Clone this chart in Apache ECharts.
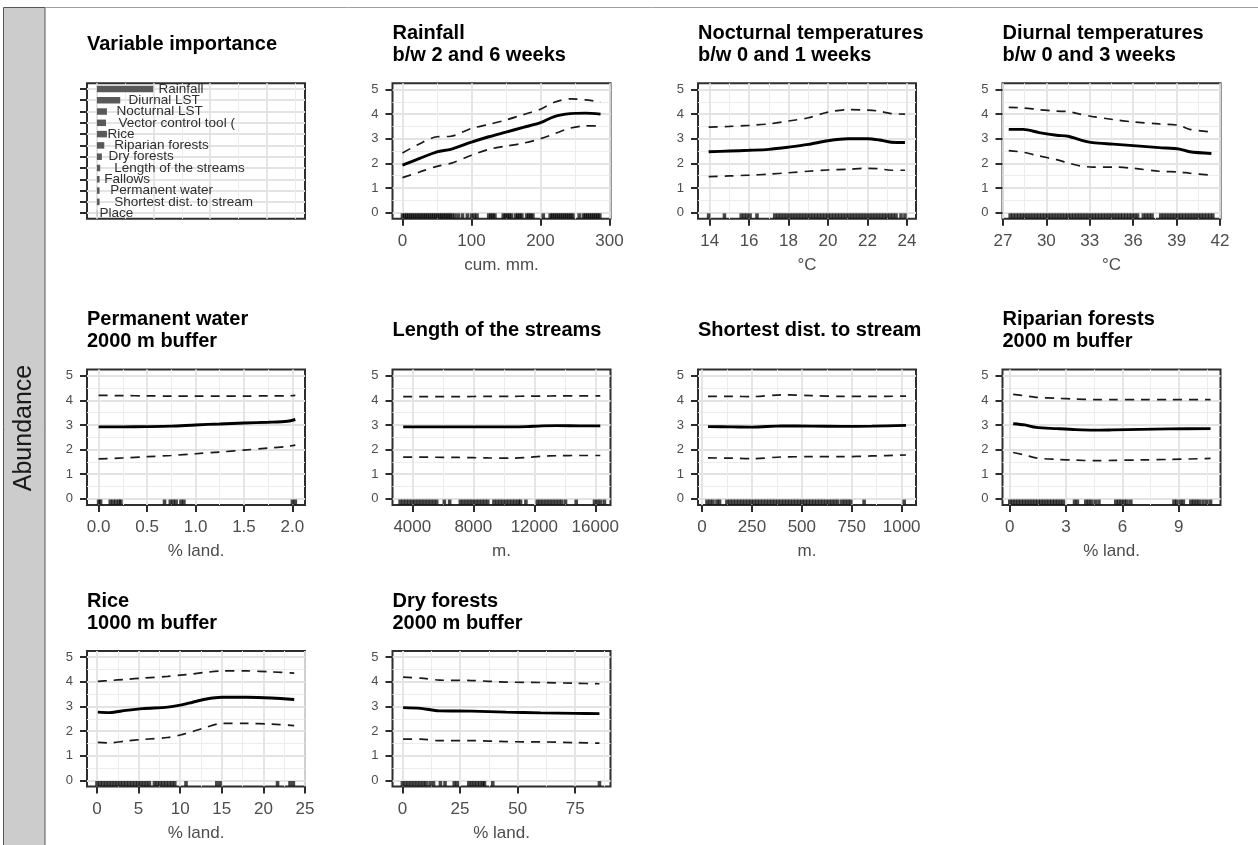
<!DOCTYPE html>
<html>
<head>
<meta charset="utf-8">
<script src="https://cdn.jsdelivr.net/npm/echarts@6/dist/echarts.min.js"></script>
<style>
html,body{margin:0;padding:0;background:#fff;}
#chart{width:1258px;height:845px;}
</style>
</head>
<body>
<div id="chart"></div>
<script>
// ---------------- DATA ----------------
const importanceVars = ['Rainfall','Diurnal LST','Nocturnal LST','Vector control tool (','Rice','Riparian forests','Dry forests','Length of the streams','Fallows','Permanent water','Shortest dist. to stream','Place'];
const importanceValues = [9.95, 4.12, 1.77, 1.6, 1.77, 1.3, 0.88, 0.58, 0.47, 0.47, 0.47, 0.05];

const rainfallX     = [0, 25, 50, 70, 100, 125, 150, 175, 200, 220, 243, 265, 287];
const rainfallMean  = [1.93, 2.2, 2.47, 2.57, 2.86, 3.08, 3.27, 3.46, 3.65, 3.9, 4.02, 4.04, 4.0];
const rainfallUpper = [2.42, 2.8, 3.08, 3.1, 3.42, 3.58, 3.76, 3.98, 4.2, 4.48, 4.62, 4.58, 4.5];
const rainfallLower = [1.42, 1.65, 1.88, 2.0, 2.33, 2.57, 2.7, 2.82, 3.0, 3.2, 3.43, 3.52, 3.52];
const rainfallRug   = [0,3,6,9,12,15,18,21,24,27,30,33,36,39,42,45,48,51,54,57,60,63,66,69,72,76,81,87,94,100,104,108,125,128,131,134,146,149,152,155,158,164,167,170,173,180,183,186,189,204,214,217,220,223,226,229,232,235,238,241,244,247,256,262,265,268,271,274,277,280,283,286];
const rainfallTicks = [0, 100, 200, 300];
const rainfallMinor = [50, 150, 250];

const noctX     = [13.95, 15, 16, 17, 18, 19, 20, 21, 22, 22.6, 23.2, 23.9];
const noctMean  = [2.47, 2.5, 2.53, 2.57, 2.66, 2.77, 2.92, 3.0, 3.0, 2.95, 2.86, 2.85];
const noctUpper = [3.47, 3.5, 3.54, 3.6, 3.72, 3.85, 4.08, 4.18, 4.16, 4.12, 4.02, 4.0];
const noctLower = [1.46, 1.49, 1.52, 1.56, 1.62, 1.68, 1.73, 1.76, 1.8, 1.78, 1.72, 1.72];
const noctRug   = [13.95,14.75,15.6,15.75,15.9,16.05,16.4,17.3,17.45,17.6,17.75,17.9,18.05,18.2,18.35,18.5,18.65,18.8,18.95,19.1,19.25,19.4,19.55,19.7,19.85,20.0,20.15,20.3,20.45,20.6,20.75,20.9,21.05,21.2,21.35,21.5,21.65,21.8,21.95,22.1,22.25,22.4,22.55,22.7,22.85,23.0,23.15,23.3,23.45,23.7,23.9];
const noctTicks = [14, 16, 18, 20, 22, 24];
const noctMinor = [15, 17, 19, 21, 23];

const diurX     = [27.4, 28.4, 29.5, 30.7, 31.5, 32.3, 33.2, 34.6, 36, 37.8, 39.2, 39.9, 41.4];
const diurMean  = [3.38, 3.38, 3.25, 3.14, 3.1, 2.96, 2.84, 2.78, 2.72, 2.64, 2.58, 2.47, 2.4];
const diurUpper = [4.27, 4.25, 4.18, 4.12, 4.1, 4.0, 3.9, 3.78, 3.68, 3.6, 3.54, 3.38, 3.28];
const diurLower = [2.52, 2.45, 2.3, 2.15, 2.02, 1.9, 1.85, 1.85, 1.8, 1.68, 1.65, 1.6, 1.52];
const diurRug   = [27.5,27.7,27.9,28.1,28.3,28.5,28.7,28.9,29.1,29.3,29.5,29.7,29.9,30.1,30.3,30.5,30.7,30.9,31.1,31.3,31.5,31.7,31.9,32.1,32.3,32.5,32.7,32.9,33.1,33.3,33.5,33.7,33.9,34.1,34.3,34.5,34.7,34.9,35.1,35.3,35.5,35.7,35.9,36.1,36.3,36.7,36.9,37.1,37.3,37.9,38.1,38.3,38.5,38.7,38.9,39.1,39.3,39.5,39.7,39.9,40.1,40.3,40.5,40.7,40.9,41.1,41.3,41.5];
const diurTicks = [27, 30, 33, 36, 39, 42];
const diurMinor = [28.5, 31.5, 34.5, 37.5, 40.5];

const waterX     = [0, 0.25, 0.5, 0.75, 1.0, 1.25, 1.5, 1.75, 1.95, 2.03];
const waterMean  = [2.92, 2.92, 2.93, 2.95, 3.0, 3.04, 3.08, 3.11, 3.15, 3.22];
const waterUpper = [4.2, 4.19, 4.18, 4.17, 4.17, 4.17, 4.17, 4.18, 4.18, 4.2];
const waterLower = [1.62, 1.66, 1.71, 1.76, 1.83, 1.9, 1.98, 2.06, 2.13, 2.18];
const waterRug   = [0, 0.02, 0.12, 0.15, 0.18, 0.21, 0.23, 0.68, 0.74, 0.77, 0.8, 0.85, 0.88, 2.0, 2.03];
const waterTicks = [0, 0.5, 1.0, 1.5, 2.0];
const waterMinor = [0.25, 0.75, 1.25, 1.75];

const streamLenX     = [3400, 5000, 7000, 9000, 10500, 11500, 12500, 13500, 15000, 16330];
const streamLenMean  = [2.92, 2.92, 2.92, 2.92, 2.92, 2.93, 2.96, 2.97, 2.96, 2.96];
const streamLenUpper = [4.15, 4.15, 4.15, 4.16, 4.16, 4.17, 4.17, 4.18, 4.18, 4.18];
const streamLenLower = [1.69, 1.69, 1.68, 1.66, 1.65, 1.68, 1.73, 1.75, 1.76, 1.76];
const streamLenRug   = [3200,3400,3600,3800,4000,4200,4400,4600,4800,5000,5200,5400,5600,6100,6450,7150,7350,7550,7750,7950,8150,8350,8550,8750,8950,9350,9550,9750,9950,10150,10350,10550,10750,10950,11100,11450,12200,12400,12600,12800,13000,13200,13400,13600,13800,14050,14750,15950,16150,16350,16600];
const streamLenTicks = [4000, 8000, 12000, 16000];
const streamLenMinor = [6000, 10000, 14000];

const distX     = [30, 150, 250, 400, 550, 700, 850, 1022];
const distMean  = [2.93, 2.92, 2.91, 2.96, 2.95, 2.94, 2.95, 2.98];
const distUpper = [4.16, 4.16, 4.15, 4.22, 4.19, 4.16, 4.16, 4.17];
const distLower = [1.66, 1.65, 1.63, 1.7, 1.71, 1.71, 1.74, 1.78];
const distRug   = [25,40,55,75,88,125,140,155,170,185,200,215,230,245,260,275,290,305,320,335,350,365,380,395,410,425,440,455,470,485,500,515,530,545,560,575,590,605,620,635,650,665,680,700,715,730,745,812,1013];
const distTicks = [0, 250, 500, 750, 1000];
const distMinor = [125, 375, 625, 875];

const riparX     = [0.18, 0.8, 1.4, 2.5, 3.5, 4.5, 5.5, 7, 8.5, 10.7];
const riparMean  = [3.05, 3.0, 2.9, 2.85, 2.81, 2.79, 2.8, 2.82, 2.84, 2.85];
const riparUpper = [4.24, 4.18, 4.12, 4.08, 4.05, 4.03, 4.03, 4.03, 4.03, 4.03];
const riparLower = [1.88, 1.78, 1.66, 1.6, 1.57, 1.55, 1.56, 1.58, 1.6, 1.64];
const riparRug   = [0,0.15,0.3,0.45,0.6,0.75,0.9,1.05,1.2,1.35,1.5,1.65,1.8,1.95,2.1,2.25,2.4,2.55,2.7,2.85,3.45,3.6,4.05,4.2,4.35,4.55,4.75,5.65,5.8,5.95,6.1,6.25,6.45,8.75,8.9,9.1,9.25,9.65,9.8,9.95,10.1,10.3,10.5,10.7];
const riparTicks = [0, 3, 6, 9];
const riparMinor = [1.5, 4.5, 7.5, 10.5];

const riceX     = [0.1, 1.5, 3.5, 5.5, 8.5, 10, 11.5, 13, 15, 18, 21, 23.7];
const riceMean  = [2.77, 2.75, 2.84, 2.91, 2.97, 3.05, 3.17, 3.29, 3.37, 3.37, 3.34, 3.28];
const riceUpper = [4.02, 4.05, 4.1, 4.15, 4.22, 4.27, 4.32, 4.38, 4.44, 4.44, 4.4, 4.35];
const riceLower = [1.54, 1.52, 1.6, 1.66, 1.74, 1.84, 1.98, 2.14, 2.31, 2.31, 2.28, 2.22];
const riceRug   = [0,0.35,0.7,1.05,1.4,1.75,2.1,2.45,2.8,3.15,3.5,3.85,4.2,4.55,4.9,5.25,5.6,5.95,6.3,6.9,7.25,7.6,7.95,8.3,8.65,9.0,9.35,10.7,14.4,14.8,21.7,23.2,23.6];
const riceTicks = [0, 5, 10, 15, 20, 25];
const riceMinor = [2.5, 7.5, 12.5, 17.5, 22.5];

const dryX     = [0.3, 8, 16, 30, 45, 60, 75, 85.5];
const dryMean  = [2.95, 2.92, 2.82, 2.81, 2.77, 2.74, 2.72, 2.71];
const dryUpper = [4.19, 4.15, 4.07, 4.05, 3.99, 3.97, 3.94, 3.92];
const dryLower = [1.67, 1.67, 1.61, 1.61, 1.57, 1.56, 1.53, 1.51];
const dryRug   = [0,1.3,2.6,3.9,5.2,6.5,7.8,9.1,10.3,12,13.5,16.5,18.5,22.5,23.8,28.8,30,31.2,32.4,33.6,34.8,35.6,39.2,85.5];
const dryTicks = [0, 25, 50, 75];
const dryMinor = [12.5, 37.5, 62.5, 87.5];

const yTicks = [0, 1, 2, 3, 4, 5];
const yMinor = [0.5, 1.5, 2.5, 3.5, 4.5];
const importanceTicks = [0, 10, 20, 30];
const importanceMinor = [5, 15, 25, 35];

// ---------------- LAYOUT / STYLE ----------------
const FONT = '"Liberation Sans", Arial, Helvetica, sans-serif';
const colLeft = [87, 392.5, 698, 1002.5];
const rowTop = [83.3, 369.5, 651];
const boxW = 218, boxH = 135.5;
const impLabelGap = [5.3, 8.3, 9.6, 12.6, 0.6, 10, 6.6, 14, 4.7, 10.7, 14.7, 2.3];

const panels = [
  {title:'Rainfall\nb/w 2 and 6 weeks', xName:'cum. mm.', x:rainfallX, mean:rainfallMean, up:rainfallUpper, lo:rainfallLower, rug:rainfallRug, ticks:rainfallTicks, minor:rainfallMinor, lim:[-14.4, 301.4], col:1, row:0, dec:0},
  {title:'Nocturnal temperatures\nb/w 0 and 1 weeks', xName:'°C', x:noctX, mean:noctMean, up:noctUpper, lo:noctLower, rug:noctRug, ticks:noctTicks, minor:noctMinor, lim:[13.41, 24.46], col:2, row:0, dec:0},
  {title:'Diurnal temperatures\nb/w 0 and 3 weeks', xName:'°C', x:diurX, mean:diurMean, up:diurUpper, lo:diurLower, rug:diurRug, ticks:diurTicks, minor:diurMinor, lim:[26.97, 42.03], col:3, row:0, dec:0},
  {title:'Permanent water\n2000 m buffer', xName:'% land.', x:waterX, mean:waterMean, up:waterUpper, lo:waterLower, rug:waterRug, ticks:waterTicks, minor:waterMinor, lim:[-0.12, 2.13], col:0, row:1, dec:1},
  {title:'Length of the streams', xName:'m.', x:streamLenX, mean:streamLenMean, up:streamLenUpper, lo:streamLenLower, rug:streamLenRug, ticks:streamLenTicks, minor:streamLenMinor, lim:[2700, 17000], col:1, row:1, dec:0},
  {title:'Shortest dist. to stream', xName:'m.', x:distX, mean:distMean, up:distUpper, lo:distLower, rug:distRug, ticks:distTicks, minor:distMinor, lim:[-20, 1072], col:2, row:1, dec:0},
  {title:'Riparian forests\n2000 m buffer', xName:'% land.', x:riparX, mean:riparMean, up:riparUpper, lo:riparLower, rug:riparRug, ticks:riparTicks, minor:riparMinor, lim:[-0.39, 11.23], col:3, row:1, dec:0},
  {title:'Rice\n1000 m buffer', xName:'% land.', x:riceX, mean:riceMean, up:riceUpper, lo:riceLower, rug:riceRug, ticks:riceTicks, minor:riceMinor, lim:[-1.2, 25.0], col:0, row:2, dec:0},
  {title:'Dry forests\n2000 m buffer', xName:'% land.', x:dryX, mean:dryMean, up:dryUpper, lo:dryLower, rug:dryRug, ticks:dryTicks, minor:dryMinor, lim:[-4.3, 90.3], col:1, row:2, dec:0}
];

const grids = [], xAxes = [], yAxes = [], series = [], titles = [];
const majorGrid = {color:'#e3e3e3', width:1.8};
const minorGrid = {color:'#ececec', width:1};
const tickStyle = {color:'#2b2b2b', width:2};

function titleFor(text, col, row) {
  const twoLine = text.indexOf('\n') >= 0;
  titles.push({
    text: text, left: colLeft[col], top: rowTop[row] - (twoLine ? 61 : 50), padding: 0,
    textStyle: {fontFamily: FONT, fontSize: 20, fontWeight: 'bold', color: '#000', lineHeight: 22}
  });
}

function addGrid(col, row) {
  grids.push({left: colLeft[col], top: rowTop[row], width: boxW, height: boxH,
    show: true, borderColor: '#2e2e2e', borderWidth: 2, backgroundColor: 'transparent', containLabel: false});
  return grids.length - 1;
}

// ---- Variable importance panel ----
(function(){
  const gi = addGrid(0, 0);
  titleFor('Variable importance', 0, 0);
  const xi = xAxes.length;
  xAxes.push({type:'value', gridIndex:gi, min:-1.75, max:36.75, position:'bottom',
    axisLine:{show:false, onZero:false}, axisTick:{show:false, customValues:importanceTicks},
    axisLabel:{show:false, customValues:importanceTicks}, splitLine:{show:true, lineStyle:majorGrid}});
  xAxes.push({type:'value', gridIndex:gi, min:-1.75, max:36.75, position:'top',
    axisLine:{show:false, onZero:false}, axisTick:{show:false, customValues:importanceMinor},
    axisLabel:{show:false}, splitLine:{show:true, lineStyle:minorGrid}});
  const idx = importanceVars.map((_, i) => i);
  yAxes.push({type:'value', gridIndex:gi, min:-0.5, max:importanceVars.length - 0.5, inverse:true, position:'left',
    axisLine:{show:false, onZero:false}, axisTick:{show:true, length:7, customValues:idx, lineStyle:tickStyle},
    axisLabel:{show:false, customValues:idx}, splitLine:{show:true, lineStyle:majorGrid}});
  const yc = yAxes.length;
  yAxes.push({type:'category', gridIndex:gi, data:importanceVars, inverse:true, position:'right', show:false});
  series.push({
    type:'bar', xAxisIndex:xi, yAxisIndex:yc, barWidth:6.5, silent:true,
    itemStyle:{color:'#595959'},
    data: importanceValues.map((v, i) => ({value:v, label:{distance: impLabelGap[i]}})),
    label:{show:true, position:'right', formatter:'{b}', fontFamily:FONT, fontSize:13.5, color:'#2e2e2e'}
  });
})();

// ---- Partial dependence panels ----
panels.forEach(p => {
  const gi = addGrid(p.col, p.row);
  titleFor(p.title, p.col, p.row);
  const xi = xAxes.length;
  xAxes.push({type:'value', gridIndex:gi, min:p.lim[0], max:p.lim[1], position:'bottom',
    axisLine:{show:false, onZero:false},
    axisTick:{show:true, length:7, customValues:p.ticks, lineStyle:tickStyle},
    axisLabel:{show:true, customValues:p.ticks, fontFamily:FONT, fontSize:17, color:'#4d4d4d', margin:14,
      formatter: v => Number(v).toFixed(p.dec)},
    splitLine:{show:true, lineStyle:majorGrid},
    name:p.xName, nameLocation:'middle', nameGap:38,
    nameTextStyle:{fontFamily:FONT, fontSize:17, color:'#4d4d4d'}});
  xAxes.push({type:'value', gridIndex:gi, min:p.lim[0], max:p.lim[1], position:'top',
    axisLine:{show:false, onZero:false}, axisTick:{show:false, customValues:p.minor},
    axisLabel:{show:false}, splitLine:{show:true, lineStyle:minorGrid}});
  const yi = yAxes.length;
  yAxes.push({type:'value', gridIndex:gi, min:-0.25, max:5.25, position:'left',
    axisLine:{show:false, onZero:false},
    axisTick:{show:true, length:7, customValues:yTicks, lineStyle:tickStyle},
    axisLabel:{show:true, customValues:yTicks, fontFamily:FONT, fontSize:13, color:'#4d4d4d', margin:14},
    splitLine:{show:true, lineStyle:majorGrid}});
  yAxes.push({type:'value', gridIndex:gi, min:-0.25, max:5.25, position:'right',
    axisLine:{show:false, onZero:false}, axisTick:{show:false, customValues:yMinor},
    axisLabel:{show:false}, splitLine:{show:true, lineStyle:minorGrid}});

  const pairs = arr => p.x.map((v, i) => [v, arr[i]]);
  series.push({type:'scatter', xAxisIndex:xi, yAxisIndex:yi, silent:true, symbol:'rect', symbolSize:[3.6, 5],
    itemStyle:{color:'rgba(0,0,0,0.9)'}, data: p.rug.map(v => [v, -0.13]), z:2});
  series.push({type:'line', xAxisIndex:xi, yAxisIndex:yi, silent:true, showSymbol:false, smooth:0.3,
    lineStyle:{color:'#1a1a1a', width:1.7, type:[9, 7]}, data: pairs(p.up), z:3});
  series.push({type:'line', xAxisIndex:xi, yAxisIndex:yi, silent:true, showSymbol:false, smooth:0.3,
    lineStyle:{color:'#1a1a1a', width:1.7, type:[9, 7]}, data: pairs(p.lo), z:3});
  series.push({type:'line', xAxisIndex:xi, yAxisIndex:yi, silent:true, showSymbol:false, smooth:0.3,
    lineStyle:{color:'#000', width:2.9}, data: pairs(p.mean), z:4});
});

const chart = echarts.init(document.getElementById('chart'), null, {renderer:'canvas'});
chart.setOption({
  animation:false,
  backgroundColor:'#ffffff',
  title: titles,
  grid: grids,
  xAxis: xAxes,
  yAxis: yAxes,
  series: series,
  graphic: [
    {type:'rect', silent:true, shape:{x:3.5, y:7.5, width:41.5, height:850},
      style:{fill:'#cccccc', stroke:'#555555', lineWidth:1}},
    {type:'line', silent:true, shape:{x1:45, y1:7.5, x2:1258, y2:7.5},
      style:{stroke:'#a0a0a0', lineWidth:1}},
    {type:'text', silent:true, x:24, y:428, rotation:Math.PI/2,
      style:{text:'Abundance', font:'25px "Liberation Sans", Arial, sans-serif', fill:'#1a1a1a', align:'center', verticalAlign:'middle'}}
  ]
});
</script>
</body>
</html>
